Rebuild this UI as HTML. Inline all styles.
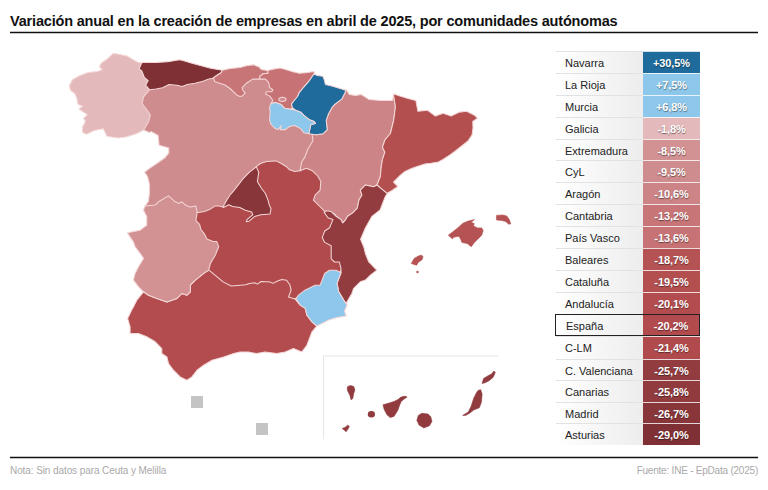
<!DOCTYPE html>
<html><head><meta charset="utf-8"><style>
html,body{margin:0;padding:0;background:#fff;width:768px;height:490px;overflow:hidden;}
body{position:relative;font-family:"Liberation Sans",sans-serif;}
.title{position:absolute;left:10px;top:12px;font-size:14.5px;font-weight:700;color:#111;letter-spacing:-0.18px;white-space:nowrap;line-height:18px;}
.foot{position:absolute;top:464px;font-size:10px;color:#a9a9a9;white-space:nowrap;line-height:14px;}
.row{position:absolute;left:556px;width:144px;height:21.88px;}
.lab{position:absolute;left:0;top:0;width:87px;height:100%;background:linear-gradient(to right,#ffffff,#ededed);border-top:1px solid #e2e2e2;box-sizing:border-box;font-size:11px;color:#222;padding-left:9px;line-height:23px;}
.val{position:absolute;left:87px;top:0;width:57px;height:100%;border-top:1px solid rgba(255,255,255,0.8);box-sizing:border-box;font-size:11px;font-weight:700;color:#fff;text-align:center;line-height:23px;letter-spacing:-0.1px;text-shadow:0.4px 0.6px 1px rgba(0,0,0,0.45);}
.esp .lab{border:1px solid #222;border-right:none;padding-left:10px;line-height:22px;left:-1px;width:88px}
.esp .val{border:1px solid #222;border-left:none;line-height:22px}
</style></head><body>
<div class="title">Variación anual en la creación de empresas en abril de 2025, por comunidades autónomas</div>
<svg width="768" height="490" viewBox="0 0 768 490" style="position:absolute;left:0;top:0">
<line x1="10" y1="32.6" x2="758" y2="32.6" stroke="#111" stroke-width="1.5"/>
<line x1="10" y1="457.5" x2="758" y2="457.5" stroke="#111" stroke-width="1.5"/>
<line x1="323.5" y1="355.9" x2="498.5" y2="355.9" stroke="#e6e6e6" stroke-width="1"/>
<line x1="323.5" y1="355.9" x2="323.5" y2="439.3" stroke="#e6e6e6" stroke-width="1"/>
<rect x="191" y="396" width="12" height="12" fill="#c4c4c4"/>
<rect x="256" y="423" width="12" height="12" fill="#c4c4c4"/>
<path d="M143.6,130.0 L140.0,125.0 L140.0,110.0 L138.0,100.0 L145.0,88.0 L160.0,80.0 L190.0,78.0 L213.0,74.0 L225.0,80.0 L245.0,80.0 L258.0,76.0 L270.0,78.0 L276.0,88.0 L278.0,98.0 L276.0,104.0 L276.0,118.0 L290.0,122.0 L305.0,125.0 L312.0,128.0 L318.0,135.0 L318.0,150.0 L315.0,172.0 L300.0,190.0 L250.0,200.0 L230.0,215.0 L195.0,230.0 L160.0,215.0 L145.1,206.0 L148.4,201.4 L149.4,193.6 L149.4,184.0 L147.4,176.2 L144.5,172.3 L149.4,168.4 L155.2,164.6 L164.9,157.8 L168.8,152.9 L168.8,148.1 L159.1,145.2 L158.1,135.5 L151.3,131.6 L149.4,132.6Z" fill="#cf8c8e" stroke="#f3d6d6" stroke-width="1.05" stroke-linejoin="round"/><path d="M192.0,212.0 L197.1,212.7 L204.5,211.4 L209.4,209.6 L215.5,205.9 L219.2,205.9 L222.9,207.1 L240.0,195.0 L256.3,166.7 L260.4,163.5 L266.7,161.5 L276.0,160.9 L281.3,163.5 L286.5,166.7 L289.6,169.8 L294.8,171.4 L300.0,170.8 L306.0,166.0 L314.0,168.0 L322.0,175.0 L330.0,185.0 L330.0,210.0 L345.0,225.0 L340.0,245.0 L345.0,265.0 L330.0,285.0 L305.0,296.0 L290.0,300.0 L260.0,300.0 L220.0,290.0 L205.0,275.0 L200.0,260.0 L190.0,230.0Z" fill="#b14a4c" stroke="#f3d6d6" stroke-width="1.05" stroke-linejoin="round"/><path d="M143.5,291.8 L136.8,300.2 L133.4,306.9 L131.7,310.0 L127.6,318.4 L130.1,326.8 L130.1,333.4 L138.4,333.4 L146.8,336.8 L155.2,341.8 L161.8,348.5 L161.8,353.5 L166.9,356.9 L168.5,363.5 L173.5,370.2 L180.2,376.9 L186.9,380.3 L191.9,376.9 L197.0,370.2 L203.6,365.2 L212.0,360.2 L223.7,356.9 L233.7,353.5 L240.0,351.9 L248.4,351.9 L256.7,353.6 L265.1,351.9 L276.8,353.6 L285.2,351.9 L293.5,348.6 L301.9,351.9 L306.9,345.2 L312.0,331.8 L316.9,326.0 L311.9,321.8 L306.9,315.1 L305.2,308.4 L300.2,305.1 L295.0,299.0 L288.5,297.1 L291.1,290.0 L289.8,284.7 L286.6,280.2 L282.0,279.5 L278.1,280.8 L272.9,283.4 L270.3,282.1 L261.2,281.5 L257.3,284.1 L254.7,282.8 L249.5,283.4 L245.6,284.7 L237.8,285.4 L231.3,286.0 L223.4,282.1 L215.6,275.6 L211.7,272.4 L208.7,270.1 L203.7,273.4 L195.3,280.1 L190.3,285.2 L190.3,291.8 L187.0,295.2 L181.9,293.5 L176.9,298.5 L166.9,301.9 L156.9,298.5 L148.5,295.2Z" fill="#b24c4e" stroke="#f3d6d6" stroke-width="1.05" stroke-linejoin="round"/><path d="M145.1,206.0 L155.1,205.1 L158.5,201.8 L168.5,195.9 L175.2,201.8 L178.5,203.4 L181.9,201.8 L184.9,204.7 L189.8,207.1 L195.9,205.9 L197.1,212.7 L195.9,220.6 L199.6,224.3 L200.8,229.2 L204.5,234.1 L206.9,239.0 L213.1,241.4 L216.7,241.4 L218.7,246.7 L215.4,255.0 L210.4,263.4 L208.7,270.1 L203.7,273.4 L195.3,280.1 L190.3,285.2 L190.3,291.8 L187.0,295.2 L181.9,293.5 L176.9,298.5 L166.9,301.9 L156.9,298.5 L148.5,295.2 L143.5,291.8 L138.5,286.8 L133.4,280.1 L135.1,273.4 L138.5,266.8 L143.5,258.4 L140.1,253.4 L135.1,246.7 L133.4,241.9 L130.0,236.9 L127.5,232.7 L140.1,230.2 L146.8,225.2 L146.8,216.8 L143.4,210.1Z" fill="#d29193" stroke="#f3d6d6" stroke-width="1.05" stroke-linejoin="round"/><path d="M256.3,166.9 L258.8,172.2 L257.4,181.5 L261.4,188.2 L265.4,193.5 L268.0,200.1 L269.4,205.4 L271.0,208.4 L270.1,213.9 L260.9,214.8 L254.5,216.6 L249.0,221.2 L246.2,221.7 L247.2,219.4 L252.7,214.8 L251.7,212.0 L245.3,210.2 L239.8,207.5 L232.5,206.5 L228.8,204.7 L223.3,207.5 L223.7,205.6 L226.9,200.1 L229.7,195.5 L233.6,190.8 L238.9,184.2 L242.9,178.9 L249.5,172.2Z" fill="#88363a" stroke="#f3d6d6" stroke-width="1.05" stroke-linejoin="round"/><path d="M346.0,89.3 L349.5,94.6 L355.4,95.6 L361.3,94.6 L369.1,99.5 L380.8,100.5 L392.5,100.5 L393.5,94.6 L395.4,106.7 L393.7,120.1 L390.4,133.5 L384.9,140.0 L382.4,147.3 L384.9,152.2 L382.4,159.6 L381.2,166.9 L380.3,176.7 L377.0,185.0 L373.6,186.8 L365.3,185.1 L360.3,190.1 L362.0,195.1 L359.0,200.0 L357.3,208.2 L352.4,213.1 L347.6,216.3 L345.1,220.4 L342.7,222.9 L341.0,219.6 L336.1,216.3 L334.5,213.9 L331.2,212.2 L326.3,213.1 L324.7,211.4 L319.8,206.5 L313.4,200.1 L315.1,195.1 L320.1,190.1 L320.8,181.3 L317.7,176.0 L312.5,170.8 L306.3,168.2 L300.0,170.8 L300.5,168.0 L301.7,162.0 L305.0,156.9 L307.9,149.0 L313.0,140.8 L311.9,132.7 L316.0,134.7 L323.2,133.7 L327.2,129.6 L326.2,120.4 L328.3,114.3 L332.3,107.1 L335.0,104.1 L341.7,99.2 L345.0,92.7Z" fill="#cc8486" stroke="#f3d6d6" stroke-width="1.05" stroke-linejoin="round"/><path d="M393.5,93.7 L398.4,95.6 L408.1,98.6 L415.9,100.5 L417.9,111.3 L427.6,110.3 L435.4,116.1 L443.1,113.2 L451.1,116.1 L458.9,112.2 L466.7,111.3 L474.5,115.2 L477.5,118.1 L472.8,121.5 L473.0,128.0 L472.1,134.9 L468.0,141.0 L463.0,145.0 L456.0,150.5 L449.7,155.1 L443.0,159.5 L438.4,161.9 L431.0,163.3 L424.9,164.1 L418.0,166.2 L411.5,168.6 L405.0,171.5 L400.2,175.3 L393.5,182.1 L398.0,186.5 L391.2,191.0 L387.3,193.2 L386.1,192.6 L380.0,187.7 L377.0,185.0 L380.3,176.7 L381.2,166.9 L382.4,159.6 L384.9,152.2 L382.4,147.3 L384.9,140.0 L390.4,133.5 L393.7,120.1 L395.4,106.7 L393.7,96.0Z" fill="#b44f50" stroke="#f3d6d6" stroke-width="1.05" stroke-linejoin="round"/><path d="M387.3,193.2 L384.9,197.5 L380.2,209.8 L372.0,216.3 L365.5,227.8 L360.6,239.2 L363.9,247.3 L365.5,253.9 L368.8,262.0 L375.3,268.6 L376.9,270.2 L370.4,275.1 L365.5,280.0 L360.3,281.8 L353.6,288.5 L351.9,293.5 L346.9,301.9 L345.2,306.9 L347.0,305.1 L343.7,300.1 L338.7,291.7 L337.0,283.4 L341.0,272.7 L341.0,268.6 L339.4,262.0 L334.5,262.0 L331.2,258.8 L331.2,252.2 L331.2,245.7 L324.7,242.4 L322.2,237.6 L324.7,231.0 L329.6,227.8 L332.9,219.6 L328.0,217.8 L324.2,212.5 L326.3,210.8 L331.2,211.6 L336.1,216.3 L341.0,219.6 L342.7,222.9 L345.1,220.4 L347.6,216.3 L352.4,213.1 L357.3,208.2 L359.0,200.0 L362.0,195.1 L360.3,190.1 L365.3,185.1 L373.6,186.8 L377.0,185.0 L380.0,187.7 L386.1,192.6Z" fill="#933c40" stroke="#f3d6d6" stroke-width="1.05" stroke-linejoin="round"/><path d="M341.0,272.7 L336.1,270.2 L329.6,270.2 L324.7,273.5 L322.2,280.0 L320.1,285.2 L315.1,285.2 L305.0,290.2 L298.4,295.2 L295.9,298.6 L300.2,305.1 L305.2,308.4 L306.9,315.1 L311.9,321.8 L316.9,326.0 L328.6,320.1 L337.0,317.6 L346.2,316.0 L344.5,311.0 L347.0,305.1 L343.7,300.1 L338.7,291.7 L337.0,283.4Z" fill="#8dc7ec" stroke="#f3d6d6" stroke-width="1.05" stroke-linejoin="round"/><path d="M138.6,62.6 L133.6,60.0 L126.9,55.9 L118.5,54.2 L114.3,53.4 L112.7,53.8 L107.0,59.3 L101.4,63.0 L99.5,66.8 L102.3,69.6 L97.6,71.5 L88.3,72.4 L78.9,76.1 L72.3,79.9 L69.5,85.5 L70.4,90.2 L75.1,94.0 L77.0,98.7 L78.0,104.3 L82.6,106.2 L78.9,109.0 L84.5,112.7 L87.3,114.6 L83.6,118.4 L85.5,121.2 L82.6,126.8 L82.6,132.4 L86.4,134.3 L93.9,130.6 L103.3,128.7 L107.0,136.2 L118.3,138.1 L126.9,136.8 L137.0,133.4 L143.6,130.0 L148.6,121.7 L150.3,115.0 L147.0,110.0 L142.0,103.5 L143.6,96.9 L149.5,89.7 L145.6,85.2 L148.2,80.6 L144.3,77.3 L141.7,70.8 L139.1,68.9 L141.7,63.0Z" fill="#e4b9bb" stroke="#f3d6d6" stroke-width="1.05" stroke-linejoin="round"/><path d="M141.7,63.0 L142.4,62.4 L156.0,62.4 L167.8,61.7 L179.5,59.8 L182.0,60.2 L191.2,63.0 L200.3,65.6 L210.7,68.2 L222.4,70.2 L221.1,72.8 L216.0,76.0 L213.3,78.0 L208.1,79.3 L202.9,81.3 L195.1,83.2 L187.3,84.5 L182.1,86.5 L176.9,85.2 L169.0,84.5 L162.6,87.8 L156.0,89.1 L149.5,89.7 L145.6,85.2 L148.2,80.6 L144.3,77.3 L141.7,70.8 L139.1,68.9Z" fill="#7e3034" stroke="#f3d6d6" stroke-width="1.05" stroke-linejoin="round"/><path d="M222.4,70.2 L230.0,68.5 L240.0,67.4 L246.4,65.8 L253.8,64.8 L259.1,66.9 L261.2,69.5 L267.6,70.6 L268.1,73.3 L263.3,73.8 L259.6,76.4 L260.2,79.1 L252.7,79.1 L246.4,83.3 L242.1,87.6 L243.2,90.8 L245.3,92.9 L242.1,96.1 L240.0,96.6 L236.9,95.2 L230.0,88.5 L225.0,85.0 L215.0,81.8 L213.3,78.0 L216.0,76.0 L221.1,72.8Z" fill="#c87577" stroke="#f3d6d6" stroke-width="1.05" stroke-linejoin="round"/><path d="M267.6,70.6 L274.0,69.0 L280.3,68.0 L285.6,69.5 L293.0,71.7 L299.4,73.3 L305.8,72.7 L313.9,71.4 L314.5,74.0 L309.0,81.2 L302.5,88.6 L299.2,92.7 L297.6,96.5 L294.6,100.0 L291.5,104.1 L292.5,107.8 L290.5,109.2 L284.4,108.2 L281.3,104.6 L275.2,102.6 L271.1,103.6 L272.9,100.3 L269.7,96.1 L265.5,94.0 L266.5,91.8 L271.8,91.8 L272.9,89.7 L269.7,87.6 L268.6,82.3 L265.5,79.1 L260.2,79.1 L259.6,76.4 L263.3,73.8 L268.1,73.3Z" fill="#c77274" stroke="#f3d6d6" stroke-width="1.05" stroke-linejoin="round"/><path d="M313.9,73.9 L317.2,75.5 L322.9,76.3 L324.5,80.4 L325.4,84.5 L331.9,86.1 L340.1,88.6 L345.8,90.2 L345.0,92.7 L341.7,99.2 L335.0,104.1 L332.3,107.1 L328.3,114.3 L326.2,120.4 L327.2,129.6 L323.2,133.7 L316.0,134.7 L308.9,133.7 L309.9,128.6 L310.9,124.5 L315.5,123.5 L314.0,121.4 L308.9,119.4 L303.8,115.3 L300.7,112.2 L295.6,110.2 L292.5,107.8 L291.5,104.1 L294.6,100.0 L297.6,96.5 L299.2,92.7 L302.5,88.6 L309.0,81.2Z" fill="#1f6b9c" stroke="#f3d6d6" stroke-width="1.05" stroke-linejoin="round"/><path d="M271.1,103.6 L275.2,102.6 L281.3,104.6 L284.4,108.2 L290.5,109.2 L295.6,110.2 L300.7,112.2 L303.8,115.3 L308.9,119.4 L314.0,121.4 L315.5,123.5 L310.9,124.5 L309.9,128.6 L308.9,133.7 L303.8,132.7 L300.7,128.6 L294.6,125.5 L289.5,126.5 L285.4,129.6 L280.3,129.6 L281.3,125.5 L278.3,129.6 L275.2,128.6 L271.1,124.5 L269.6,120.4 L270.1,112.2 L269.6,107.1Z" fill="#8dc7ec" stroke="#f3d6d6" stroke-width="1.05" stroke-linejoin="round"/><path d="M448.3,235.2 L452.5,232.1 L457.7,227.9 L462.9,223.2 L468.1,221.1 L474.4,219.6 L471.3,222.2 L474.4,223.8 L473.3,225.8 L477.5,227.9 L481.7,227.9 L483.2,230.5 L481.7,235.2 L477.5,239.4 L474.4,242.5 L471.3,246.7 L467.1,243.5 L461.9,242.5 L460.8,239.4 L458.8,236.3 L453.5,237.3 L452.5,238.9 L449.4,236.3Z" fill="#b55253" stroke="#b55253" stroke-width="0.6" stroke-linejoin="round"/><path d="M496.3,215.4 L502.5,214.9 L506.7,215.9 L509.3,219.6 L510.8,223.8 L508.8,224.3 L505.6,221.4 L501.5,220.5 L496.6,220.0Z" fill="#b55253" stroke="#b55253" stroke-width="0.6" stroke-linejoin="round"/><path d="M411.3,263.4 L414.1,258.5 L418.4,256.0 L421.5,255.1 L423.0,256.7 L422.1,259.7 L418.4,262.2 L416.6,265.2 L414.1,264.6Z" fill="#b55253" stroke="#b55253" stroke-width="0.6" stroke-linejoin="round"/><path d="M347.7,386.6 L350.5,385.5 L353.8,386.6 L354.9,389.9 L353.8,393.2 L352.7,398.7 L351.0,399.8 L349.9,395.4 L347.7,391.0 L347.2,388.3Z" fill="#913b3f" stroke="#913b3f" stroke-width="0.6" stroke-linejoin="round"/><path d="M383.0,404.8 L388.5,403.2 L394.0,401.5 L398.4,399.3 L400.1,397.6 L402.8,396.5 L406.2,396.3 L406.7,397.4 L404.5,398.7 L401.2,401.5 L399.5,405.4 L398.0,410.0 L396.8,412.0 L394.0,416.4 L390.2,417.5 L386.9,414.7 L384.1,409.2Z" fill="#913b3f" stroke="#913b3f" stroke-width="0.6" stroke-linejoin="round"/><path d="M342.2,428.5 L345.0,427.4 L347.7,425.2 L349.4,426.3 L347.7,429.6 L346.1,431.8 L344.4,430.2Z" fill="#913b3f" stroke="#913b3f" stroke-width="0.6" stroke-linejoin="round"/><path d="M421.8,413.3 L428.0,414.0 L430.8,416.8 L431.9,421.6 L429.4,425.8 L423.9,427.9 L419.0,425.1 L416.9,420.3 L418.3,415.4Z" fill="#913b3f" stroke="#913b3f" stroke-width="0.6" stroke-linejoin="round"/><path d="M482.1,383.5 L483.5,378.6 L487.7,375.9 L491.8,373.8 L493.9,371.0 L495.3,372.4 L493.2,377.3 L489.1,380.7 L484.9,382.8Z" fill="#913b3f" stroke="#913b3f" stroke-width="0.6" stroke-linejoin="round"/><path d="M478.0,390.4 L480.7,389.7 L482.1,393.9 L481.4,402.2 L479.3,407.8 L473.8,409.9 L469.6,413.3 L465.5,415.4 L462.7,415.4 L468.3,411.9 L471.0,406.4 L473.8,398.0 L476.6,392.5Z" fill="#913b3f" stroke="#913b3f" stroke-width="0.6" stroke-linejoin="round"/><ellipse cx="282.4" cy="99.3" rx="3.6" ry="2.1" fill="#cf8c8e" stroke="#f3d6d6" stroke-width="1.05"/><ellipse cx="371.4" cy="414.2" rx="3.6" ry="3.3" fill="#913b3f"/><circle cx="417.5" cy="272" r="1.2" fill="#b55253"/>
</svg>
<div class="row" style="top:51.00px;height:21.88px"><div class="lab">Navarra</div><div class="val" style="background:#1f6b9c">+30,5%</div></div><div class="row" style="top:72.88px;height:21.88px"><div class="lab">La Rioja</div><div class="val" style="background:#8dc7ec">+7,5%</div></div><div class="row" style="top:94.76px;height:21.88px"><div class="lab">Murcia</div><div class="val" style="background:#8dc7ec">+6,8%</div></div><div class="row" style="top:116.64px;height:21.88px"><div class="lab">Galicia</div><div class="val" style="background:#e4b9bb">-1,8%</div></div><div class="row" style="top:138.52px;height:21.88px"><div class="lab">Extremadura</div><div class="val" style="background:#d29193">-8,5%</div></div><div class="row" style="top:160.40px;height:21.88px"><div class="lab">CyL</div><div class="val" style="background:#cf8c8e">-9,5%</div></div><div class="row" style="top:182.28px;height:21.88px"><div class="lab">Aragón</div><div class="val" style="background:#cc8486">-10,6%</div></div><div class="row" style="top:204.16px;height:21.88px"><div class="lab">Cantabria</div><div class="val" style="background:#c87577">-13,2%</div></div><div class="row" style="top:226.04px;height:21.88px"><div class="lab">País Vasco</div><div class="val" style="background:#c77274">-13,6%</div></div><div class="row" style="top:247.92px;height:21.88px"><div class="lab">Baleares</div><div class="val" style="background:#b55253">-18,7%</div></div><div class="row" style="top:269.80px;height:21.88px"><div class="lab">Cataluña</div><div class="val" style="background:#b44f50">-19,5%</div></div><div class="row" style="top:291.68px;height:21.88px"><div class="lab">Andalucía</div><div class="val" style="background:#b24c4e">-20,1%</div></div><div class="row esp" style="top:313.56px;height:22.70px"><div class="lab">España</div><div class="val" style="background:#b24b4d">-20,2%</div></div><div class="row" style="top:336.40px;height:22.30px"><div class="lab">C-LM</div><div class="val" style="background:#b14a4c">-21,4%</div></div><div class="row" style="top:358.70px;height:21.50px"><div class="lab">C. Valenciana</div><div class="val" style="background:#933c40">-25,7%</div></div><div class="row" style="top:380.20px;height:21.50px"><div class="lab">Canarias</div><div class="val" style="background:#913b3f">-25,8%</div></div><div class="row" style="top:401.70px;height:21.60px"><div class="lab">Madrid</div><div class="val" style="background:#88363a">-26,7%</div></div><div class="row" style="top:423.30px;height:22.00px"><div class="lab">Asturias</div><div class="val" style="background:#7e3034">-29,0%</div></div>
<div class="foot" style="left:10px;letter-spacing:-0.09px">Nota: Sin datos para Ceuta y Melilla</div>
<div class="foot" style="right:10px;letter-spacing:-0.22px">Fuente: INE - EpData (2025)</div>
</body></html>
